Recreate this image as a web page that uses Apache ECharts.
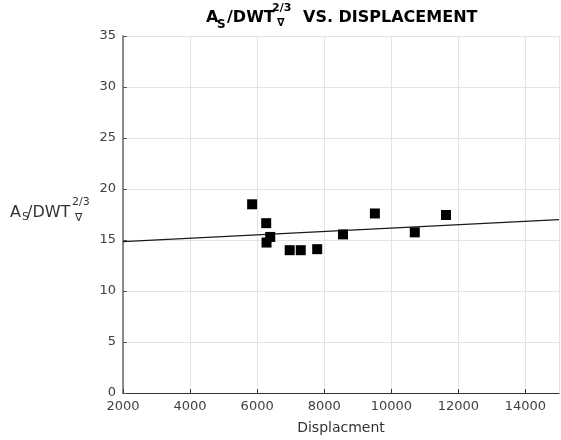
<!DOCTYPE html>
<html>
<head>
<meta charset="utf-8">
<script src="https://cdn.jsdelivr.net/npm/echarts@6/dist/echarts.min.js"></script>
<style>
  html, body { margin: 0; padding: 0; background: #fff; }
  #chart { width: 561px; height: 440px; }
</style>
</head>
<body>
<div id="chart"></div>
<script>
// Hull wetted-area ratio against displacement, with a linear fit
const displacement = [5850, 6270, 6390, 6280, 6970, 7300, 7790, 8560, 9510, 10700, 11630];
const areaRatio    = [18.5, 16.65, 15.3, 14.75, 14.0, 14.0, 14.1, 15.55, 17.6, 15.75, 17.45];

const fitX = [2000, 15000];
const fitY = [14.85, 17.0];

const xTicks = { min: 2000, max: 15000, step: 2000 };
const yTicks = { min: 0, max: 35, step: 5 };

const FONT = 'DejaVu Sans';

function txt(x, y, text, font, fill) {
  return { type: 'text', x: x, y: y, silent: true,
           style: { text: text, font: font, fill: fill, verticalAlign: 'top', align: 'left' } };
}

const chart = echarts.init(document.getElementById('chart'), null, { renderer: 'canvas' });

const option = {
  backgroundColor: '#ffffff',
  animation: false,
  grid: { left: 123, top: 36, right: 2, bottom: 47, containLabel: false },
  xAxis: {
    type: 'value',
    min: xTicks.min, max: xTicks.max, interval: xTicks.step,
    name: 'Displacment',
    nameLocation: 'middle',
    nameGap: 28,
    nameTextStyle: { fontFamily: FONT, fontSize: 14, color: '#333' },
    axisLine: { show: true, lineStyle: { color: '#333', width: 1 } },
    axisTick: { show: true, inside: true, length: 4, lineStyle: { color: '#333' } },
    axisLabel: { fontFamily: FONT, fontSize: 13, color: '#404040', margin: 7,
                 showMaxLabel: false, formatter: v => String(v) },
    splitLine: { show: true, lineStyle: { color: '#e3e3e3', width: 1 } }
  },
  yAxis: {
    type: 'value',
    min: yTicks.min, max: yTicks.max, interval: yTicks.step,
    axisLine: { show: true, lineStyle: { color: '#666', width: 1.5 } },
    axisTick: { show: true, inside: true, length: 4, lineStyle: { color: '#555' } },
    axisLabel: { fontFamily: FONT, fontSize: 13, color: '#404040', margin: 7 },
    splitLine: { show: true, lineStyle: { color: '#e3e3e3', width: 1 } }
  },
  series: [
    {
      type: 'line',
      data: fitX.map((x, i) => [x, fitY[i]]),
      symbol: 'none',
      lineStyle: { color: '#1a1a1a', width: 1.2 },
      z: 2
    },
    {
      type: 'scatter',
      data: displacement.map((x, i) => [x, areaRatio[i]]),
      symbol: 'rect',
      symbolSize: 10,
      itemStyle: { color: '#000000', opacity: 1 },
      z: 3
    }
  ],
  graphic: [
    // Title: A_S / DWT with stacked 2/3 over nabla, then the rest
    txt(206, 10, 'A', 'bold 16px ' + FONT, '#000'),
    txt(217, 19, 'S', 'bold 12px ' + FONT, '#000'),
    txt(227, 10, '/DWT', 'bold 16px ' + FONT, '#000'),
    txt(272, 3, '2/3', 'bold 11px ' + FONT, '#000'),
    txt(277, 18, '\u2207', 'bold 11px ' + FONT, '#000'),
    txt(303, 10, 'VS. DISPLACEMENT', 'bold 16px ' + FONT, '#000'),
    // Y axis label
    txt(10, 205, 'A', '16px ' + FONT, '#333'),
    txt(22, 212, 'S', '11px ' + FONT, '#333'),
    txt(27, 205, '/DWT', '16px ' + FONT, '#333'),
    txt(72, 197, '2/3', '11px ' + FONT, '#333'),
    txt(75, 213, '\u2207', '11px ' + FONT, '#333')
  ]
};

chart.setOption(option);
</script>
</body>
</html>
